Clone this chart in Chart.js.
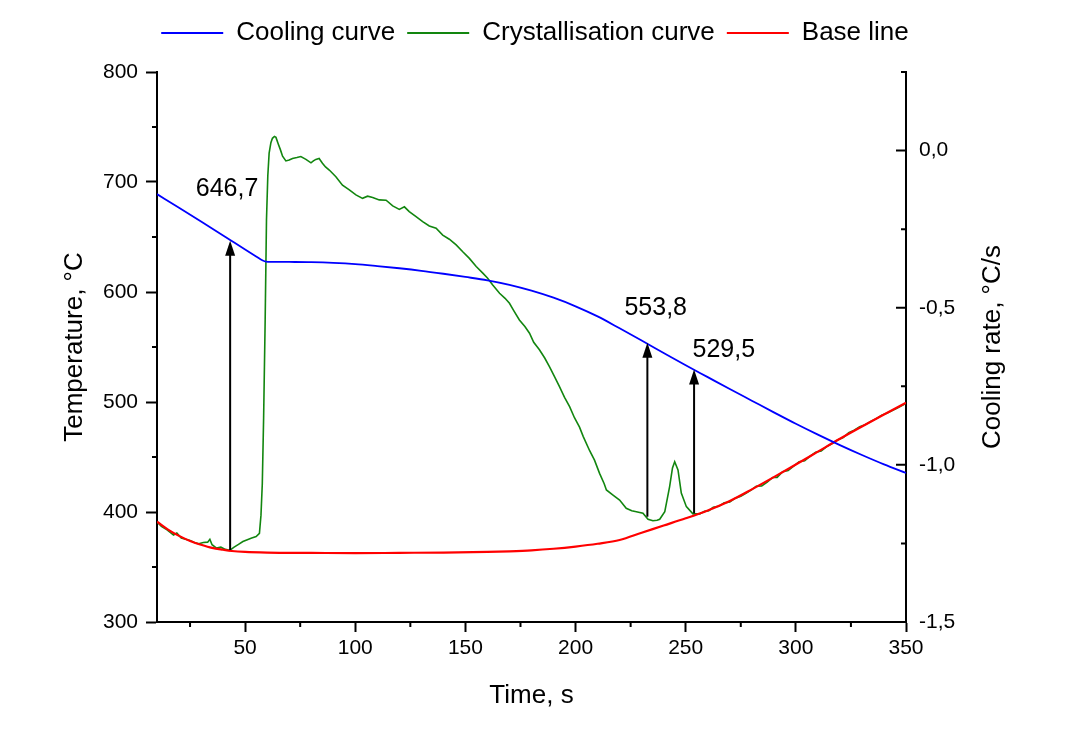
<!DOCTYPE html>
<html>
<head>
<meta charset="utf-8">
<title>Cooling and crystallisation curves</title>
<script src="https://cdn.jsdelivr.net/npm/chart.js"></script>
<style>
  html, body { margin: 0; padding: 0; background: #fff; }
  #chart { display: block; }
</style>
</head>
<body>
<canvas id="chart" width="1087" height="754"></canvas>
<script>
// Cooling curve, temperature on the left axis
var coolTime = [10, 20, 30, 40, 43.2, 50, 55, 58, 59.5, 62, 70, 80, 90, 100, 110, 120, 130, 140, 150, 160,
    170, 180, 190, 200, 210, 220, 230, 240, 250, 260, 270, 280, 290, 300, 310, 320, 330, 340, 350];
var coolTemp = [689, 676.6, 664.1, 651.4, 647.3, 638.6, 632.3, 628.6, 627.6, 627.4, 627.3, 627.1, 626.5, 625.4, 623.6, 621.6, 619.3, 616.6, 613.7, 610.6,
    606.5, 601.2, 594.8, 587.0, 577.8, 567.0, 555.9, 544.6, 533.4, 522.6, 511.8, 501.2, 490.6, 480.2, 470.3, 460.8, 451.8, 443.3, 435.5];

// Crystallisation curve (dT/dt), cooling rate on the right axis
var crystTime = [10, 12, 14, 16, 17.5, 19, 21, 23, 25, 27, 29, 31, 33, 34, 35, 37, 39, 41, 43, 45,
    47, 49, 51, 53, 55, 56.5, 57.2, 57.8, 58.4, 59.1, 59.7, 60.3, 60.9, 61.7, 62.4, 63.3, 64, 65, 66, 67,
    68.5, 70, 71.5, 73.5, 75.3, 77.6, 79.9, 81, 82.1, 83.6, 85.1, 86.5, 88.2, 91.2, 94.2, 97.3, 100.3, 103.3, 105.6, 107.9,
    110.9, 114, 117, 120, 122.3, 124.5, 127.6, 130.6, 133.6, 136.7, 139.7, 142.7, 145.8, 148.8, 151.8, 154.9, 157.9, 160.1, 162.4, 165.5,
    168, 170, 172, 174.5, 177, 179.1, 181, 183.6, 186, 188.2, 190.5, 192.7, 195, 197.3, 199.5, 201.8, 203.5, 206.4, 208.6, 210.9,
    213, 214, 217, 220, 223, 225.5, 227.6, 230.6, 232.9, 235.1, 237, 238.2, 240.5, 242.7, 244, 245, 246.5, 248, 250.3, 253.3,
    256.4, 258.5, 260.5, 262.5, 265, 267.5, 270, 272.5, 275, 277.5, 280, 282, 284.5, 287, 289.5, 291.5, 294, 296.5, 299, 301.5,
    304, 306.5, 309, 311.5, 314, 316.5, 319, 321.5, 324, 326.5, 329, 331.5, 334, 336.5, 339, 341.5, 344, 346.5, 349, 350];
var crystRate = [-1.181, -1.196, -1.204, -1.215, -1.223, -1.217, -1.233, -1.237, -1.241, -1.247, -1.251, -1.247, -1.246, -1.237, -1.254, -1.265, -1.262, -1.269, -1.272, -1.262,
    -1.253, -1.244, -1.238, -1.233, -1.228, -1.218, -1.16, -1.06, -0.85, -0.54, -0.22, -0.08, -0.008, 0.025, 0.039, 0.045, 0.042, 0.022, 0.003, -0.018,
    -0.033, -0.030, -0.025, -0.022, -0.019, -0.028, -0.039, -0.033, -0.028, -0.025, -0.040, -0.052, -0.062, -0.083, -0.110, -0.125, -0.141, -0.152, -0.145, -0.149,
    -0.157, -0.158, -0.176, -0.187, -0.179, -0.194, -0.210, -0.226, -0.240, -0.247, -0.269, -0.282, -0.300, -0.322, -0.343, -0.369, -0.390, -0.406, -0.428, -0.454,
    -0.470, -0.486, -0.510, -0.539, -0.560, -0.581, -0.610, -0.634, -0.660, -0.688, -0.720, -0.751, -0.785, -0.815, -0.850, -0.880, -0.910, -0.955, -0.985, -1.027,
    -1.060, -1.080, -1.096, -1.112, -1.138, -1.146, -1.149, -1.154, -1.173, -1.178, -1.176, -1.173, -1.149, -1.069, -1.010, -0.990, -1.016, -1.090, -1.133, -1.156,
    -1.156, -1.148, -1.146, -1.135, -1.132, -1.121, -1.118, -1.106, -1.100, -1.090, -1.079, -1.068, -1.067, -1.055, -1.040, -1.040, -1.022, -1.018, -1.004, -0.990,
    -0.987, -0.972, -0.960, -0.956, -0.942, -0.932, -0.921, -0.913, -0.898, -0.890, -0.879, -0.872, -0.862, -0.853, -0.842, -0.835, -0.826, -0.818, -0.808, -0.803];

// Base line, also on the cooling rate axis
var baseTime = [10, 15, 20, 25, 30, 35, 40, 44, 50, 60, 80, 100, 120, 140, 160, 170, 180, 190, 200, 210,
    220, 230, 240, 250, 260, 270, 280, 290, 300, 310, 320, 330, 340, 350];
var baseRate = [-1.181, -1.206, -1.226, -1.242, -1.254, -1.264, -1.270, -1.274, -1.277, -1.279, -1.280, -1.281, -1.280, -1.279, -1.277, -1.275, -1.272, -1.267, -1.260, -1.251,
    -1.239, -1.216, -1.193, -1.170, -1.145, -1.115, -1.078, -1.039, -0.999, -0.958, -0.917, -0.878, -0.840, -0.802];

// Arrows: time, temperature at the tip, cooling rate at the foot, text
var markTime = [43.2, 232.6, 253.8];
var markTemp = [646.7, 553.8, 529.5];
var markRate = [-1.271, -1.165, -1.154];
var markText = ['646,7', '553,8', '529,5'];
// where the numbers are written (time, temperature)
var markLabelTime = [41.8, 236.4, 267.3];
var markLabelTemp = [693.6, 585.5, 547.3];

var FONT = '"Liberation Sans", Arial, sans-serif';
Chart.defaults.font.family = FONT;
Chart.defaults.color = '#000';

function pairs(xs, ys) {
    return xs.map(function (x, i) { return { x: x, y: ys[i] }; });
}

function isMajor(v, step) {
    return Math.abs(v / step - Math.round(v / step)) < 1e-6;
}

// a bit more room under the legend
var legendGap = {
    id: 'legendGap',
    afterInit: function (chart) {
        var legend = chart.legend;
        var fit = legend.fit;
        legend.fit = function () {
            fit.call(legend);
            legend.height += 16;
        };
    }
};

// minor ticks, inward ticks of the right axis, right axis title
var axisExtras = {
    id: 'axisExtras',
    afterDraw: function (chart) {
        var c = chart.ctx, a = chart.chartArea;
        var x = chart.scales.x, y = chart.scales.y, y2 = chart.scales.y2;
        c.save();
        c.strokeStyle = '#000';
        c.lineWidth = 2;
        c.beginPath();
        for (var v = 25; v < 350; v += 50) {
            var px = x.getPixelForValue(v);
            c.moveTo(px, a.bottom); c.lineTo(px, a.bottom + 5);
        }
        for (var w = 350; w < 800; w += 100) {
            var py = y.getPixelForValue(w);
            c.moveTo(a.left, py); c.lineTo(a.left - 5, py);
        }
        for (var r = -1.5; r <= 0.25 + 1e-9; r += 0.25) {
            var ry = y2.getPixelForValue(r);
            c.moveTo(a.right, ry); c.lineTo(a.right - (isMajor(r, 0.5) ? 10 : 5), ry);
        }
        c.stroke();

        c.translate(993, (a.top + a.bottom) / 2);
        c.rotate(-Math.PI / 2);
        c.fillStyle = '#000';
        c.font = '26px ' + FONT;
        c.textAlign = 'center';
        c.textBaseline = 'middle';
        c.fillText('Cooling rate, °C/s', 0, 0);
        c.restore();
    }
};

// arrows and their values
var arrows = {
    id: 'arrows',
    afterDatasetsDraw: function (chart) {
        var c = chart.ctx;
        var x = chart.scales.x, y = chart.scales.y, y2 = chart.scales.y2;
        c.save();
        c.strokeStyle = '#000';
        c.fillStyle = '#000';
        c.lineWidth = 2;
        for (var i = 0; i < markTime.length; i++) {
            var px = x.getPixelForValue(markTime[i]);
            var tip = y.getPixelForValue(markTemp[i]);
            var foot = y2.getPixelForValue(markRate[i]);
            c.beginPath();
            c.moveTo(px, foot); c.lineTo(px, tip + 12);
            c.stroke();
            c.beginPath();
            c.moveTo(px, tip); c.lineTo(px - 5, tip + 15); c.lineTo(px + 5, tip + 15);
            c.closePath();
            c.fill();
        }
        c.font = '25px ' + FONT;
        c.textAlign = 'center';
        c.textBaseline = 'middle';
        for (var j = 0; j < markText.length; j++) {
            c.fillText(markText[j], x.getPixelForValue(markLabelTime[j]), y.getPixelForValue(markLabelTemp[j]));
        }
        c.restore();
    }
};

var ctx = document.getElementById('chart').getContext('2d');
new Chart(ctx, {
    type: 'line',
    data: {
        datasets: [{
            label: 'Cooling curve',
            data: pairs(coolTime, coolTemp),
            yAxisID: 'y',
            borderColor: '#0000ff',
            backgroundColor: '#0000ff',
            borderWidth: 1.8,
            pointRadius: 0,
            cubicInterpolationMode: 'monotone',
            order: 0
        }, {
            label: 'Crystallisation curve',
            data: pairs(crystTime, crystRate),
            yAxisID: 'y2',
            borderColor: '#12860f',
            backgroundColor: '#12860f',
            borderWidth: 1.6,
            pointRadius: 0,
            tension: 0,
            order: 2
        }, {
            label: 'Base line',
            data: pairs(baseTime, baseRate),
            yAxisID: 'y2',
            borderColor: '#ff0000',
            backgroundColor: '#ff0000',
            borderWidth: 2.2,
            pointRadius: 0,
            cubicInterpolationMode: 'monotone',
            order: 1
        }]
    },
    options: {
        responsive: false,
        animation: false,
        layout: { autoPadding: false, padding: { left: 0, right: 17, top: 8, bottom: 0 } },
        plugins: {
            tooltip: { enabled: false },
            legend: {
                position: 'top',
                labels: {
                    boxWidth: 62,
                    boxHeight: 2,
                    padding: 12,
                    color: '#000',
                    font: { size: 26 },
                    sort: function (a, b) { return a.datasetIndex - b.datasetIndex; },
                    generateLabels: function (chart) {
                        return Chart.defaults.plugins.legend.labels.generateLabels(chart).map(function (item) {
                            item.lineWidth = 0;
                            item.fillStyle = item.strokeStyle;
                            return item;
                        });
                    }
                }
            }
        },
        scales: {
            x: {
                type: 'linear',
                min: 10,
                max: 350,
                afterBuildTicks: function (s) { s.ticks = s.ticks.filter(function (t) { return isMajor(t.value, 50); }); },
                afterFit: function (s) { s.height = 132; },
                ticks: { stepSize: 50, font: { size: 21 }, padding: 4 },
                grid: { drawOnChartArea: false, tickLength: 10, tickWidth: 2, tickColor: '#000' },
                border: { color: '#000', width: 2 },
                title: { display: true, text: 'Time, s', font: { size: 26 }, padding: { top: 0, bottom: 43 } }
            },
            y: {
                position: 'left',
                min: 300,
                max: 800,
                afterFit: function (s) { s.width = 157; },
                ticks: { stepSize: 100, font: { size: 21 }, padding: 8 },
                grid: { drawOnChartArea: false, tickLength: 11, tickWidth: 2, tickColor: '#000' },
                border: { color: '#000', width: 2 },
                title: { display: true, text: 'Temperature, °C', font: { size: 26 }, padding: { top: 59, bottom: 0 } }
            },
            y2: {
                position: 'right',
                min: -1.5,
                max: 0.25,
                afterBuildTicks: function (s) { s.ticks = s.ticks.filter(function (t) { return isMajor(t.value, 0.5); }); },
                afterFit: function (s) { s.width = 164; },
                ticks: {
                    stepSize: 0.5,
                    font: { size: 21 },
                    padding: 13,
                    callback: function (v) { return v.toFixed(1).replace('.', ','); }
                },
                grid: { drawOnChartArea: false, drawTicks: false },
                border: { color: '#000', width: 2 }
            }
        }
    },
    plugins: [legendGap, axisExtras, arrows]
});
</script>
</body>
</html>
